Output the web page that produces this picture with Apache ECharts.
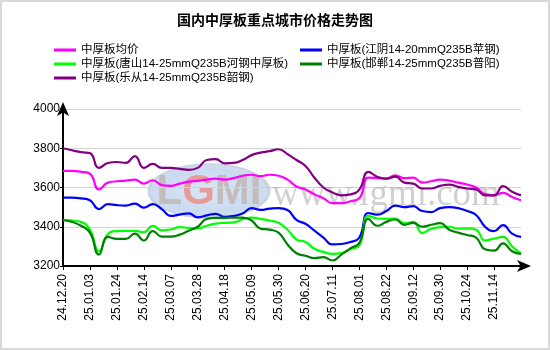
<!DOCTYPE html>
<html>
<head>
<meta charset="utf-8">
<script src="https://cdn.jsdelivr.net/npm/echarts@6/dist/echarts.min.js"></script>
<style>html,body{margin:0;padding:0;background:#fff;}#c{width:550px;height:350px;}</style>
</head>
<body>
<div id="c"></div>
<script>
var categories = ['24.12.20','24.12.25','24.12.30','25.01.03','25.01.10','25.01.17','25.01.24','25.01.27','25.02.07','25.02.14',
'25.02.21','25.02.28','25.03.07','25.03.14','25.03.21','25.03.28','25.04.03','25.04.11','25.04.18','25.04.25',
'25.04.30','25.05.09','25.05.16','25.05.23','25.05.30','25.06.06','25.06.13','25.06.20','25.06.27','25.07.04',
'25.07.11','25.07.18','25.07.25','25.08.01','25.08.08','25.08.15','25.08.22','25.08.29','25.09.05','25.09.12',
'25.09.19','25.09.26','25.09.30','25.10.10','25.10.17','25.10.24','25.10.31','25.11.07','25.11.14','25.11.21',
'25.11.28','25.12.05'];

var seriesNames = ['中厚板均价','中厚板(江阴14-20mmQ235B苹钢)','中厚板(唐山14-25mmQ235B河钢中厚板)','中厚板(邯郸14-25mmQ235B普阳)','中厚板(乐从14-25mmQ235B韶钢)'];

var avgPrice = [3685,3685,3680,3670,3590,3625,3632,3635,3640,3620,3637,3612,3608,3620,3630,3634,3640,3645,3640,3648,
3660,3665,3658,3665,3660,3640,3605,3590,3565,3545,3520,3520,3530,3545,3650,3648,3645,3662,3648,3650,
3625,3632,3640,3635,3625,3615,3600,3566,3560,3573,3552,3535];

var jiangyin = [3548,3548,3545,3535,3490,3515,3510,3508,3518,3497,3515,3490,3455,3462,3468,3448,3458,3466,3450,3455,
3468,3495,3486,3492,3495,3485,3435,3415,3380,3345,3310,3312,3322,3345,3470,3462,3480,3508,3500,3505,
3480,3475,3495,3500,3495,3480,3460,3400,3378,3408,3365,3348];

var tangshan = [3435,3432,3425,3385,3275,3362,3378,3379,3379,3372,3405,3382,3386,3398,3394,3392,3405,3416,3420,3422,
3438,3447,3440,3432,3420,3385,3335,3322,3288,3272,3262,3266,3285,3305,3455,3442,3440,3442,3418,3425,
3368,3390,3398,3400,3390,3392,3385,3330,3340,3348,3300,3263];

var handan = [3433,3425,3405,3370,3258,3348,3338,3338,3365,3330,3378,3350,3350,3360,3380,3400,3440,3445,3445,3447,
3447,3432,3390,3385,3370,3310,3265,3252,3240,3245,3228,3258,3290,3318,3440,3405,3425,3437,3410,3420,
3400,3410,3418,3385,3370,3358,3345,3285,3278,3315,3275,3262];

var lecong = [3800,3790,3780,3775,3700,3725,3730,3725,3760,3700,3720,3700,3700,3695,3690,3700,3740,3745,3723,3725,
3740,3765,3778,3785,3795,3770,3740,3710,3650,3600,3575,3560,3565,3590,3680,3655,3645,3655,3625,3620,
3595,3595,3608,3615,3603,3595,3590,3560,3560,3607,3578,3560];

var yTicks = [3200, 4000, 200]; // min, max, interval
var colors = ['#ff00ff','#0000ff','#00ff00','#008000','#800080'];
var values = [avgPrice, jiangyin, tangshan, handan, lecong];

var chart = echarts.init(document.getElementById('c'), null, {renderer:'canvas'});
var showIdx = function(i){ return i % 3 === 0 && i <= 48; };

var series = values.map(function(v, k){
  return {
    name: seriesNames[k], type: 'line', data: v, smooth: true, showSymbol: false, symbol: 'none',
    lineStyle: {width: 2.2, color: colors[k]}, itemStyle: {color: colors[k]}, z: 3
  };
});

var legendText = {fontSize: 11.5, color: '#000', fontFamily: 'Liberation Sans, Noto Sans CJK SC, sans-serif', lineHeight: 14};

chart.setOption({
  animation: false,
  backgroundColor: '#fff',
  title: {text: '国内中厚板重点城市价格走势图', left: 'center', top: 8,
    textStyle: {fontSize: 14, fontWeight: 'bold', color: '#000', fontFamily: 'Noto Sans CJK SC, sans-serif'}},
  legend: [
    {orient: 'vertical', left: 49, top: 38, itemWidth: 22, itemHeight: 3, itemGap: 0, icon: 'rect',
     data: [seriesNames[0], seriesNames[2], seriesNames[4]], textStyle: legendText},
    {orient: 'vertical', left: 295, top: 38, itemWidth: 22, itemHeight: 3, itemGap: 0, icon: 'rect',
     data: [seriesNames[1], seriesNames[3]], textStyle: legendText}
  ],
  grid: {left: 63, right: 29, top: 109, bottom: 84, containLabel: false},
  xAxis: {
    type: 'category', data: categories, boundaryGap: false,
    axisLine: {lineStyle: {color: '#000', width: 2}, symbol: ['none','arrow'], symbolSize: [9, 14], symbolOffset: [0, 10]},
    axisTick: {show: true, interval: function(i){return showIdx(i);}, length: 4, lineStyle: {color: '#000'}},
    axisLabel: {interval: function(i){return showIdx(i);}, rotate: 90, fontSize: 12, color: '#000', margin: 8,
      fontFamily: 'Liberation Sans, Arial, sans-serif'},
    splitLine: {show: false}
  },
  yAxis: {
    type: 'value', min: yTicks[0], max: yTicks[1], interval: yTicks[2],
    axisLine: {show: true, lineStyle: {color: '#000', width: 2}, symbol: ['none','arrow'], symbolSize: [9, 14], symbolOffset: [0, 7]},
    axisTick: {show: true, length: 3, lineStyle: {color: '#000'}},
    axisLabel: {fontSize: 12, color: '#000', margin: 3, fontFamily: 'Liberation Sans, Arial, sans-serif',
      formatter: function(v){ return String(v); }},
    splitLine: {show: true, lineStyle: {color: '#d4d4d4', width: 1}}
  },
  graphic: [
    {type: 'rect', shape: {x: 1, y: 1, width: 548, height: 348}, style: {fill: 'none', stroke: '#d9d9d9', lineWidth: 2}, z: 10, silent: true},
    {type: 'group', x: 209, y: 191, z: 1, silent: true, children: [
      {type: 'circle', shape: {cx: 0, cy: 0, r: 60}, scaleY: 0.45,
       style: {fill: {type: 'radial', x: 0.5, y: 0.5, r: 0.5, colorStops: [{offset: 0, color: 'rgba(205,222,242,0.75)'}, {offset: 0.8, color: 'rgba(185,206,234,0.75)'}, {offset: 1, color: 'rgba(200,214,232,0.8)'}]},
              stroke: 'rgba(190,205,225,0.8)', lineWidth: 3}},
      {type: 'text', x: 0, y: 1, style: {text: '{a|L}{b|G}{a|M}{a|I}', align: 'center', verticalAlign: 'middle',
        rich: {a: {fontSize: 42, fontWeight: 'bold', fill: '#c2bcbc', fontFamily: 'Liberation Sans, Arial'},
               b: {fontSize: 42, fontWeight: 'bold', fill: '#e79a9a', fontFamily: 'Liberation Sans, Arial'}}}}
    ]},
    {type: 'text', x: 386, y: 195, z: 1, silent: true,
     style: {text: 'www.lgmi.com', align: 'center', verticalAlign: 'middle', fontSize: 37,
       fontFamily: 'Liberation Serif, Times New Roman, serif', fill: 'rgba(150,150,150,0.45)'}}
  ],
  series: series
});
</script>
</body>
</html>
